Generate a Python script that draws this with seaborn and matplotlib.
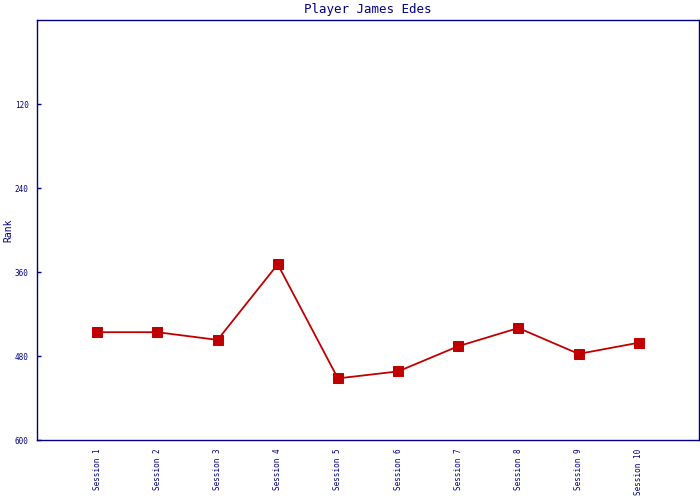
import pandas as pd
import matplotlib
matplotlib.use("Agg")
import matplotlib.pyplot as plt
import seaborn as sns

# Data
sessions = ["Session 1", "Session 2", "Session 3", "Session 4", "Session 5",
            "Session 6", "Session 7", "Session 8", "Session 9", "Session 10"]
ranks = [446, 446, 457, 349, 512, 502, 466, 440, 477, 461]
y_ticks = [120, 240, 360, 480, 600]

navy = "#000080"
red = "#c00000"

sns.set_style("white")
plt.rcParams['font.family'] = ['DejaVu Sans Mono', 'DejaVu Sans']

df = pd.DataFrame({"session": sessions, "rank": ranks})

fig = plt.figure(figsize=(7, 5), dpi=100)
ax = fig.add_axes([37 / 700, 60 / 500, 662 / 700, 420 / 500])

sns.lineplot(data=df, x="session", y="rank", sort=False, color=red,
             linewidth=1.3, marker="s", markersize=7.5, markeredgecolor=red,
             ax=ax)

ax.set_xlim(-1, len(sessions))
ax.set_ylim(600, 0)
ax.set_yticks(y_ticks)
ax.set_yticklabels([str(t) for t in y_ticks], fontsize=5.5, color=navy)
ax.set_xticks(range(len(sessions)))
ax.set_xticklabels(sessions, rotation=90, fontsize=5.5, color=navy, va="top")
ax.tick_params(axis="y", direction="in", length=3, width=1, color=navy,
               pad=6, left=True)
ax.tick_params(axis="x", length=0, pad=6)

for side in ["left", "right", "top", "bottom"]:
    ax.spines[side].set_visible(True)
    ax.spines[side].set_color(navy)
    ax.spines[side].set_linewidth(1)

ax.set_xlabel("")
ax.set_ylabel("Rank", fontsize=7, color=navy)
ax.yaxis.set_label_coords(-0.036, 0.5)
ax.set_title("Player James Edes", fontsize=9, color=navy, pad=5)

fig.savefig("out.png", dpi=100)
